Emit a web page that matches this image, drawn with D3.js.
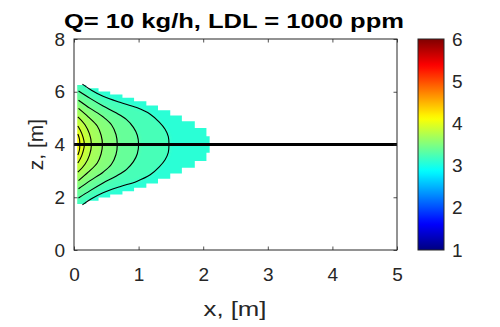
<!DOCTYPE html>
<html>
<head>
<meta charset="utf-8">
<script src="https://cdn.jsdelivr.net/npm/d3@7"></script>
<style>
  html, body { margin: 0; padding: 0; background: #fff; }
  svg { display: block; font-family: "Liberation Sans", Arial, sans-serif; }
</style>
</head>
<body>
<svg id="chart" width="500" height="327"></svg>
<script>
// ---------------- data ----------------
const xTicks = [0, 1, 2, 3, 4, 5];
const zTicks = [0, 2, 4, 6, 8];
const colorTicks = [1, 2, 3, 4, 5, 6];
const colorDomain = [1, 6];
// log10 concentration levels: fill edge (LDL = 1000 ppm) then each contour line, then peak
const levels = [3.0, 3.15, 3.3, 3.45, 3.6, 3.75, 3.9, 4.05, 4.2];
// contour lines as [x, half-height above the release height] pairs (mirrored below)
const contour1 = [[0.13, 2.29], [0.27, 2.06], [0.45, 1.83], [0.71, 1.6], [0.97, 1.4], [1.18, 1.15], [1.32, 0.85], [1.41, 0.58], [1.46, 0.3], [1.47, 0]];
const contour2 = [[0.07, 2.03], [0.25, 1.75], [0.45, 1.46], [0.65, 1.2], [0.81, 0.95], [0.92, 0.65], [0.98, 0.35], [1.0, 0]];
const contour3 = [[0.07, 1.68], [0.25, 1.37], [0.45, 1.05], [0.58, 0.75], [0.65, 0.38], [0.67, 0]];
const contour4 = [[0.07, 1.37], [0.22, 1.05], [0.36, 0.7], [0.42, 0.35], [0.44, 0]];
const contour5 = [[0.06, 1.05], [0.17, 0.75], [0.24, 0.4], [0.27, 0]];
const contour6 = [[0.06, 0.7], [0.12, 0.42], [0.16, 0]];
const contour7 = [[0.06, 0.4], [0.085, 0.2], [0.09, 0]];
// stepped outer edge of the detectable plume: cell edges in x and half-height per cell
const boundaryX = [0.05, 0.19, 0.38, 0.56, 0.75, 0.93, 1.12, 1.3, 1.49, 1.67, 1.87, 2.05, 2.1];
const boundaryH = [2.26, 2.13, 2.01, 1.9, 1.77, 1.64, 1.48, 1.3, 1.1, 0.88, 0.63, 0.31];
const releaseZ = 4;
const xDomain = [0, 5], zDomain = [0, 8];
const titleText = "Q= 10 kg/h, LDL = 1000 ppm";

// ---------------- drawing ----------------
const contours = [contour1, contour2, contour3, contour4, contour5, contour6, contour7];
const svg = d3.select("#chart");
const ink = "#262626";
const x = d3.scaleLinear().domain(xDomain).range([74, 397]);
const y = d3.scaleLinear().domain(zDomain).range([250, 39]);
const cy = d3.scaleLinear().domain(colorDomain).range([250, 39]);

function jet(v) {
  const t = (v - colorDomain[0]) / (colorDomain[1] - colorDomain[0]);
  const c = u => Math.max(0, Math.min(1, u));
  const r = c(Math.min(4 * t - 1.5, -4 * t + 4.5));
  const g = c(Math.min(4 * t - 0.5, -4 * t + 3.5));
  const b = c(Math.min(4 * t + 0.5, -4 * t + 2.5));
  return d3.rgb(r * 255, g * 255, b * 255).toString();
}

const defs = svg.append("defs");
defs.append("clipPath").attr("id", "plotClip")
  .append("rect").attr("x", x(0)).attr("y", y(8)).attr("width", x(5) - x(0)).attr("height", y(0) - y(8));

// plume clip (stepped boundary)
let bpath = "";
for (let i = 0; i < boundaryH.length; i++) {
  const p0 = [x(boundaryX[i]), y(releaseZ + boundaryH[i])];
  const p1 = [x(boundaryX[i + 1]), y(releaseZ + boundaryH[i])];
  bpath += (i === 0 ? "M" : "L") + p0[0] + "," + p0[1] + "L" + p1[0] + "," + p1[1];
}
for (let i = boundaryH.length - 1; i >= 0; i--) {
  bpath += "L" + x(boundaryX[i + 1]) + "," + y(releaseZ - boundaryH[i]) + "L" + x(boundaryX[i]) + "," + y(releaseZ - boundaryH[i]);
}
bpath += "Z";
defs.append("clipPath").attr("id", "plumeClip").append("path").attr("d", bpath);

const blur = defs.append("filter").attr("id", "soft")
  .attr("x", "-20%").attr("y", "-20%").attr("width", "140%").attr("height", "140%");
blur.append("feGaussianBlur").attr("stdDeviation", 2.2);

const curve = d3.line().x(d => x(d[0])).y(d => y(d[1])).curve(d3.curveCatmullRom.alpha(0.5));
function fullPoints(c) {
  const up = c.map(p => [p[0], releaseZ + p[1]]);
  const down = c.slice(0, -1).reverse().map(p => [p[0], releaseZ - p[1]]);
  return up.concat(down);
}

const plume = svg.append("g").attr("clip-path", "url(#plumeClip)")
  .append("g").attr("filter", "url(#soft)");
// outer band
plume.append("rect")
  .attr("x", x(-0.3)).attr("y", y(7)).attr("width", x(2.5) - x(-0.3)).attr("height", y(1) - y(7))
  .attr("fill", jet((levels[0] + levels[1]) / 2));
contours.forEach((c, k) => {
  const h0 = c[0][1];
  const d = curve(fullPoints(c)) + "L" + x(-0.3) + "," + y(releaseZ - h0) + "L" + x(-0.3) + "," + y(releaseZ + h0) + "Z";
  plume.append("path").attr("d", d).attr("fill", jet((levels[k + 1] + levels[k + 2]) / 2));
});

// contour lines
const lines = svg.append("g").attr("clip-path", "url(#plotClip)");
contours.forEach(c => {
  lines.append("path").attr("d", curve(fullPoints(c)))
    .attr("fill", "none").attr("stroke", "#000").attr("stroke-width", 1.1);
});

// release height line
lines.append("line")
  .attr("x1", x(xDomain[0])).attr("x2", x(xDomain[1]))
  .attr("y1", y(releaseZ)).attr("y2", y(releaseZ))
  .attr("stroke", "#000").attr("stroke-width", 3);

// axes
const tickFont = 19;
const gx = svg.append("g").attr("transform", `translate(0,${y(0)})`)
  .call(d3.axisBottom(x).tickValues(xTicks).tickSize(-3.5).tickSizeOuter(0).tickPadding(18).tickFormat(d3.format("d")));
const gxTop = svg.append("g").attr("transform", `translate(0,${y(8)})`)
  .call(d3.axisTop(x).tickValues(xTicks).tickSize(-3.5).tickSizeOuter(0).tickFormat(""));
const gy = svg.append("g").attr("transform", `translate(${x(0)},0)`)
  .call(d3.axisLeft(y).tickValues(zTicks).tickSize(-3.5).tickSizeOuter(0).tickPadding(9).tickFormat(d3.format("d")));
const gyR = svg.append("g").attr("transform", `translate(${x(5)},0)`)
  .call(d3.axisRight(y).tickValues(zTicks).tickSize(-3.5).tickSizeOuter(0).tickFormat(""));
[gx, gxTop, gy, gyR].forEach(g => {
  g.select(".domain").remove();
  g.selectAll(".tick line").attr("stroke", ink).attr("stroke-width", 0.8);
  g.selectAll("text").attr("fill", ink).style("font-size", tickFont + "px").attr("font-family", "Liberation Sans, Arial, sans-serif");
});
svg.append("rect").attr("x", x(0)).attr("y", y(8)).attr("width", x(5) - x(0)).attr("height", y(0) - y(8))
  .attr("fill", "none").attr("stroke", ink).attr("stroke-width", 1);

// colorbar
const grad = defs.append("linearGradient").attr("id", "jetGrad")
  .attr("x1", 0).attr("y1", 1).attr("x2", 0).attr("y2", 0);
d3.range(0, 1.0001, 0.02).forEach(t => {
  grad.append("stop").attr("offset", t).attr("stop-color", jet(colorDomain[0] + t * (colorDomain[1] - colorDomain[0])));
});
const cbX = 418, cbW = 26;
svg.append("rect").attr("x", cbX).attr("y", cy(6)).attr("width", cbW).attr("height", cy(1) - cy(6))
  .attr("fill", "url(#jetGrad)").attr("stroke", ink).attr("stroke-width", 1);
const gc = svg.append("g").attr("transform", `translate(${cbX + cbW},0)`)
  .call(d3.axisRight(cy).tickValues(colorTicks).tickSize(0).tickSizeOuter(0).tickPadding(8).tickFormat(d3.format("d")));
gc.select(".domain").remove();
gc.selectAll("text").attr("fill", ink).style("font-size", tickFont + "px").attr("font-family", "Liberation Sans, Arial, sans-serif");

// labels
svg.append("text").attr("x", 234).attr("y", 28).attr("text-anchor", "middle")
  .attr("font-weight", "bold").style("font-size", "21px").attr("fill", "#000")
  .attr("textLength", 340).attr("lengthAdjust", "spacingAndGlyphs").text(titleText);
svg.append("text").attr("x", 235).attr("y", 316).attr("text-anchor", "middle")
  .style("font-size", "21px").attr("fill", ink)
  .attr("textLength", 63).attr("lengthAdjust", "spacingAndGlyphs").text("x, [m]");
svg.append("text").attr("transform", `translate(43,${y(4)}) rotate(-90)`).attr("text-anchor", "middle")
  .style("font-size", "21px").attr("fill", ink).text("z, [m]");
</script>
</body>
</html>
